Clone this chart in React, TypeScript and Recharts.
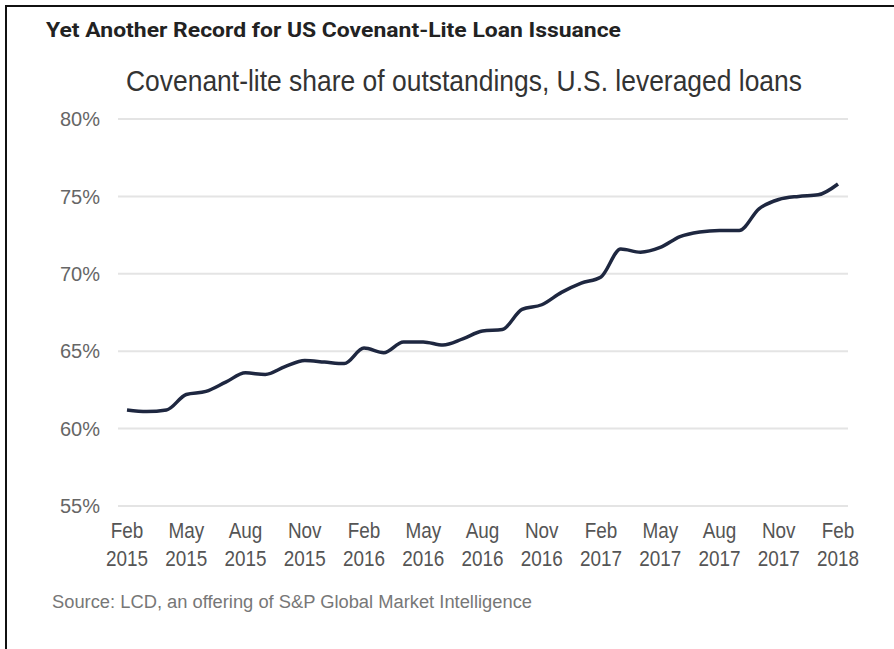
import React from 'react';
import { LineChart, Line, XAxis, YAxis, CartesianGrid } from 'recharts';

const shareValues: number[] = [
  61.2, 61.1, 61.2, 62.2, 62.4, 63.0, 63.6, 63.5, 64.0, 64.4, 64.3, 64.2,
  65.2, 64.9, 65.6, 65.6, 65.4, 65.8, 66.3, 66.4, 67.7, 68.0, 68.8, 69.4,
  69.8, 71.6, 71.4, 71.7, 72.4, 72.7, 72.8, 72.8, 74.2, 74.8, 75.0, 75.1, 75.8,
];

const tickIndices: number[] = [0, 3, 6, 9, 12, 15, 18, 21, 24, 27, 30, 33, 36];
const tickMonths: string[] = ['Feb', 'May', 'Aug', 'Nov', 'Feb', 'May', 'Aug', 'Nov', 'Feb', 'May', 'Aug', 'Nov', 'Feb'];
const tickYears: string[] = ['2015', '2015', '2015', '2015', '2016', '2016', '2016', '2016', '2017', '2017', '2017', '2017', '2018'];
const yTicks: number[] = [55, 60, 65, 70, 75, 80];

const data = shareValues.map((v, i) => ({ idx: i, share: v }));

const XTick = (props: any) => {
  const { x, payload } = props;
  const pos = tickIndices.indexOf(payload.value);
  if (pos < 0) return null;
  return (
    <g transform={`translate(${x},0) scale(0.86,1)`}>
      <text x={0} y={538} textAnchor="middle" fill="#555" fontSize={22} fontFamily="'Liberation Sans', Arial, sans-serif">
        {tickMonths[pos]}
      </text>
      <text x={0} y={566} textAnchor="middle" fill="#555" fontSize={22} fontFamily="'Liberation Sans', Arial, sans-serif">
        {tickYears[pos]}
      </text>
    </g>
  );
};

export default function App() {
  return (
    <div style={{ position: 'absolute', left: 0, top: 0, width: 894, height: 649, background: '#fff', overflow: 'hidden' }}>
      <LineChart
        width={894}
        height={649}
        data={data}
        margin={{ top: 119, right: 46, left: 0, bottom: 83 }}
      >
        <CartesianGrid horizontal={true} vertical={false} stroke="#e4e4e4" strokeWidth={2} />
        <XAxis
          dataKey="idx"
          type="number"
          domain={[0, 36]}
          ticks={tickIndices}
          interval={0}
          padding={{ left: 9, right: 10 }}
          axisLine={false}
          tickLine={false}
          height={60}
          tick={<XTick />}
        />
        <YAxis
          domain={[55, 80]}
          ticks={yTicks}
          axisLine={false}
          tickLine={false}
          width={118}
          tickMargin={12}
          tickFormatter={(v: number) => `${v}%`}
          tick={{ fill: '#666', fontSize: 20, fontFamily: "'Liberation Sans', Arial, sans-serif" }}
        />
        <Line
          type="monotone"
          dataKey="share"
          stroke="#1e2740"
          strokeWidth={3.5}
          dot={false}
          isAnimationActive={false}
        />
      </LineChart>
      <svg width={894} height={649} style={{ position: 'absolute', left: 0, top: 0, pointerEvents: 'none' }}>
        <line x1={5} y1={6} x2={894} y2={6} stroke="#111" strokeWidth={2} />
        <line x1={6} y1={5} x2={6} y2={649} stroke="#111" strokeWidth={2} />
        <text x={46} y={37} fontSize={20} fontWeight="bold" fill="#222" fontFamily="Roboto, 'Liberation Sans', sans-serif" textLength={575} lengthAdjust="spacingAndGlyphs">
          Yet Another Record for US Covenant-Lite Loan Issuance
        </text>
        <text x={126} y={91} fontSize={29} fill="#333" fontFamily="'Liberation Sans', Arial, sans-serif" textLength={676} lengthAdjust="spacingAndGlyphs">
          Covenant-lite share of outstandings, U.S. leveraged loans
        </text>
        <text x={52} y={608} fontSize={18} fill="#777" fontFamily="'Liberation Sans', Arial, sans-serif" textLength={480} lengthAdjust="spacingAndGlyphs">
          Source: LCD, an offering of S&amp;P Global Market Intelligence
        </text>
      </svg>
    </div>
  );
}
